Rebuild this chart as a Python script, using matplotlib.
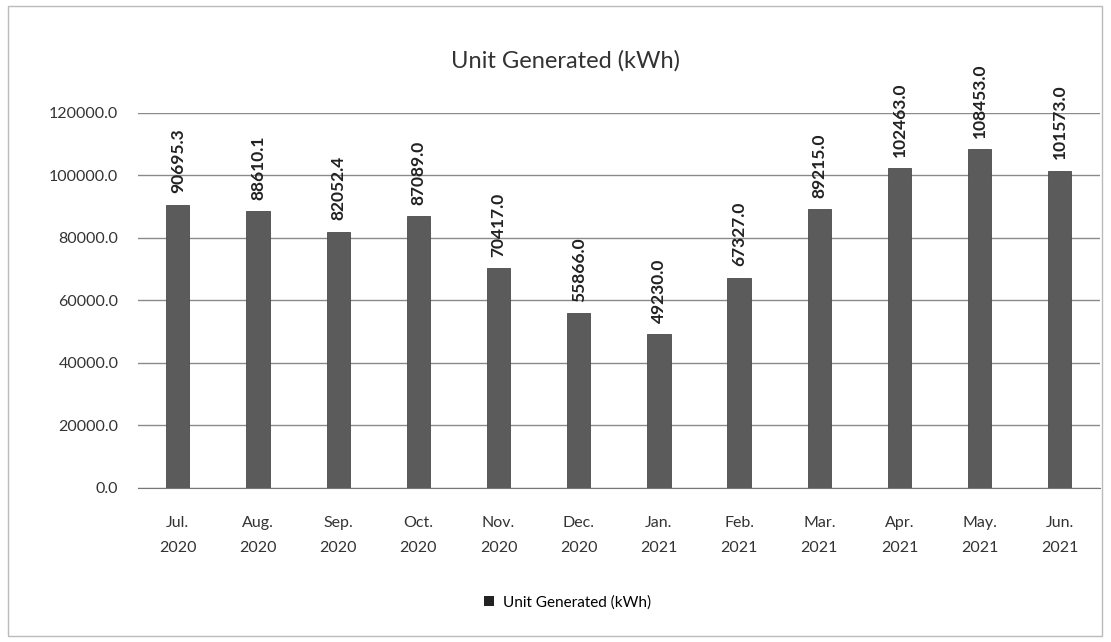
import matplotlib
matplotlib.use("Agg")
import matplotlib.pyplot as plt
from matplotlib.patches import Patch, Rectangle

months = ["Jul.\n2020", "Aug.\n2020", "Sep.\n2020", "Oct.\n2020", "Nov.\n2020", "Dec.\n2020",
          "Jan.\n2021", "Feb.\n2021", "Mar.\n2021", "Apr.\n2021", "May.\n2021", "Jun.\n2021"]
units = [90695.3, 88610.1, 82052.4, 87089.0, 70417.0, 55866.0,
         49230.0, 67327.0, 89215.0, 102463.0, 108453.0, 101573.0]
yticks = [0, 20000, 40000, 60000, 80000, 100000, 120000]

plt.rcParams['font.family'] = ['Lato', 'DejaVu Sans']

fig = plt.figure(figsize=(11.11, 6.42), dpi=100)
fig.patches.append(Rectangle((0.007, 0.01), 0.985, 0.98, transform=fig.transFigure,
                             fill=False, edgecolor='#bbbbbb', linewidth=1))
ax = fig.add_axes([0.124, 0.240, 0.866, 0.584])

x = list(range(len(months)))
bars = ax.bar(x, units, width=0.29, color='#5b5b5b', edgecolor='#4a4a4a', linewidth=0.6, zorder=3)
for xi, v in zip(x, units):
    ax.annotate(f"{v:.1f}", (xi, v), xytext=(0, 8), textcoords='offset points',
                rotation=90, ha='center', va='bottom', fontsize=12.5, color='#222222',
                fontweight='bold', annotation_clip=False)

ax.set_ylim(0, 120000)
ax.set_xlim(-0.5, len(months) - 0.5)
ax.set_yticks(yticks)
ax.set_yticklabels([f"{t:.1f}" for t in yticks], fontsize=11.5, color='#333333')
ax.set_xticks(x)
ax.set_xticklabels(months, fontsize=11.5, color='#333333', linespacing=2.0)
ax.tick_params(axis='y', length=0, pad=14)
ax.tick_params(axis='x', length=0, pad=20)
ax.grid(axis='y', color='#8a8a8a', linewidth=1.0, zorder=0)
for s in ['top', 'right', 'left']:
    ax.spines[s].set_visible(False)
ax.spines['bottom'].set_color('#777777')

fig.text(0.509, 0.905, "Unit Generated (kWh)", ha='center', va='center', fontsize=17, color='#333333')
fig.legend(handles=[Patch(facecolor='#222222', label='Unit Generated (kWh)')],
           loc='center', bbox_to_anchor=(0.511, 0.062), frameon=False, fontsize=11,
           handlelength=0.6, handleheight=0.6, handletextpad=0.6)

fig.savefig("out.png", dpi=100)
